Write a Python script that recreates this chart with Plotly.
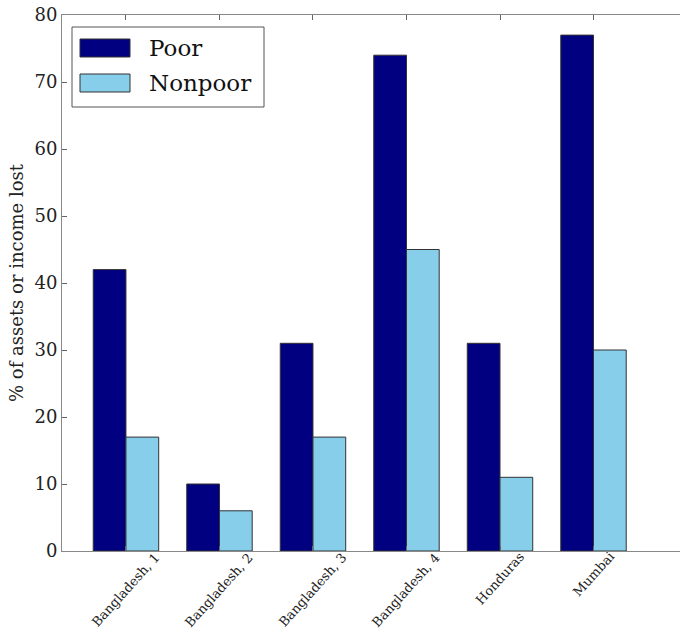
import plotly.graph_objects as go

categories = ["Bangladesh, 1", "Bangladesh, 2", "Bangladesh, 3", "Bangladesh, 4", "Honduras", "Mumbai"]
poor = [42, 10, 31, 74, 31, 77]
nonpoor = [17, 6, 17, 45, 11, 30]
y_ticks = [0, 10, 20, 30, 40, 50, 60, 70, 80]
series_names = ["Poor", "Nonpoor"]

POOR_C = "#000080"
NONPOOR_C = "#87CEEB"
EDGE = "#333333"
FONT = "DejaVu Serif"

W, H = 680, 640
# plot area in pixels: x 62..680, y 15..551
SX0, SX1, SY0, SY1 = 62, 680, 15, 551
L, R, T, B = SX0, W - SX1, SY0, H - SY1

fig = go.Figure()
fig.add_trace(go.Bar(x=categories, y=poor, name=series_names[0], marker=dict(color=POOR_C, line=dict(color=EDGE, width=1)), showlegend=False))
fig.add_trace(go.Bar(x=categories, y=nonpoor, name=series_names[1], marker=dict(color=NONPOOR_C, line=dict(color=EDGE, width=1)), showlegend=False))

# rotated, centred category labels
for c in categories:
    fig.add_annotation(x=c, xref="x", y=0, yref="paper", yshift=4, text=c, showarrow=False,
                       textangle=-48, xanchor="center", yanchor="top",
                       font=dict(family=FONT, size=13, color="#222"))

# manual legend (wide swatches like matplotlib), positions in pixels
def px(x):
    return (x - SX0) / (SX1 - SX0)
def py(y):
    return (SY1 - y) / (SY1 - SY0)

fig.add_shape(type="rect", xref="paper", yref="paper", x0=px(72), x1=px(264), y0=py(107), y1=py(27),
              line=dict(color="#555", width=1), fillcolor="white", layer="above")
for i, (nm, col) in enumerate(zip(series_names, [POOR_C, NONPOOR_C])):
    yc = 48 + i * 35
    fig.add_shape(type="rect", xref="paper", yref="paper", x0=px(80), x1=px(130), y0=py(yc + 9), y1=py(yc - 9),
                  line=dict(color=EDGE, width=1), fillcolor=col, layer="above")
    fig.add_annotation(x=px(147), y=py(yc), xref="paper", yref="paper", text=nm, showarrow=False,
                       xanchor="left", yanchor="middle", font=dict(family=FONT, size=23, color="#111"))

fig.update_layout(
    width=W, height=H,
    margin=dict(l=L, r=R, t=T, b=B),
    plot_bgcolor="white", paper_bgcolor="white",
    barmode="group", bargap=0.3, bargroupgap=0,
    font=dict(family=FONT, color="#222"),
    xaxis=dict(range=[-0.684, 5.925], showticklabels=False, ticks="inside", ticklen=5, tickcolor="#666",
               showline=True, linecolor="#888", linewidth=1, mirror="ticks", showgrid=False, zeroline=False),
    yaxis=dict(range=[0, 80], tickvals=y_ticks, ticks="inside", ticklen=5, tickcolor="#666",
               showline=True, linecolor="#888", linewidth=1, showgrid=False, zeroline=False,
               tickfont=dict(family=FONT, size=18, color="#222"),
               title=dict(text="% of assets or income lost", font=dict(family=FONT, size=18, color="#222"), standoff=6)),
)

fig.write_html("out.html", config={"displayModeBar": False}, post_script="document.body.style.margin='0';")
